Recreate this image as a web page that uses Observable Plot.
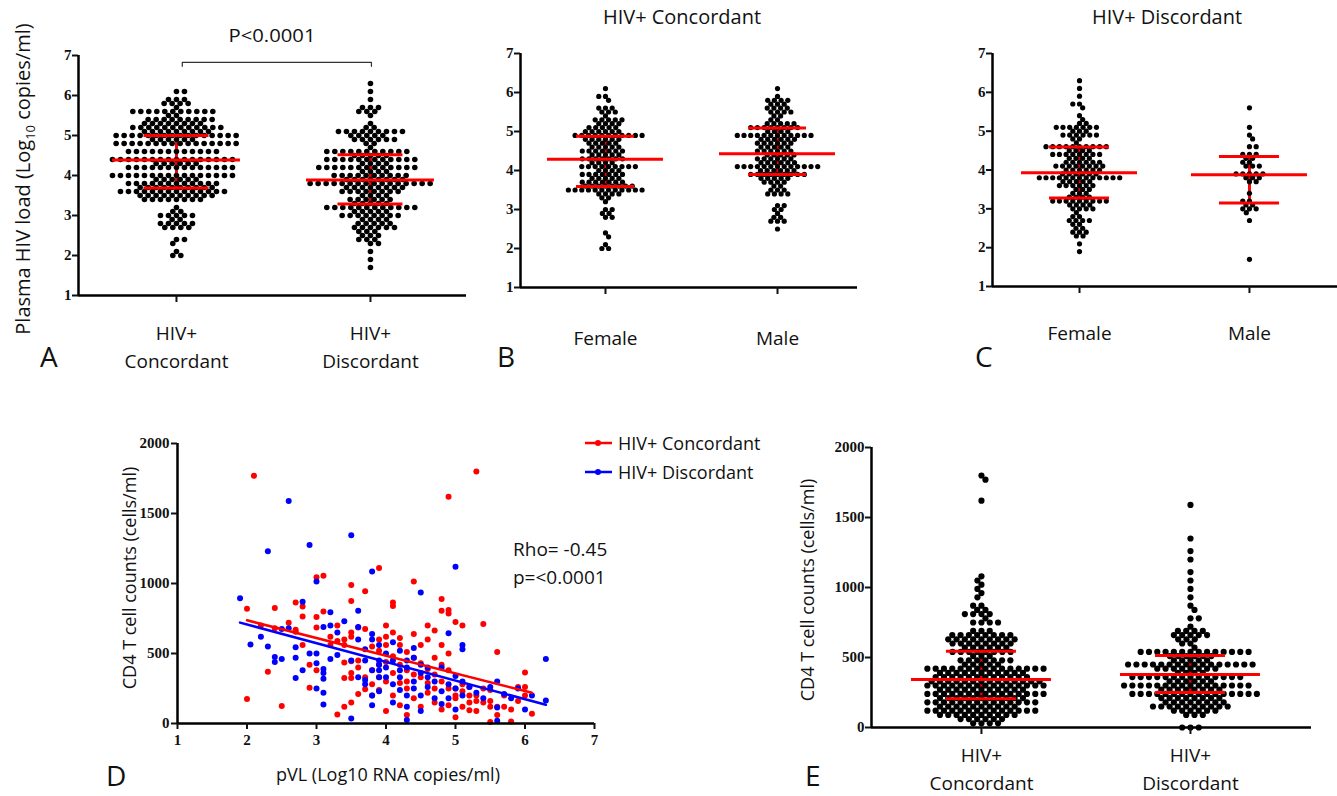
<!DOCTYPE html>
<html><head><meta charset="utf-8">
<script src="https://cdn.jsdelivr.net/npm/d3@7"></script>
<script src="https://cdn.jsdelivr.net/npm/@observablehq/plot@0.6"></script>
<style>
body{margin:0;background:#fff;}
#page{position:relative;width:1337px;height:796px;overflow:hidden;background:#fff;}
#page > svg, #page > figure{position:absolute;margin:0;}
#overlay{left:0;top:0;pointer-events:none;}
#overlay text{font-family:"Open Sans",sans-serif;fill:#111;}
</style></head><body><div id="page"></div>
<script>
// ---------------- DATA ----------------
// Plasma HIV load (log10 copies/ml): rows of [value, number of dots at that value]
const aGroups = ["HIV+\nConcordant", "HIV+\nDiscordant"];
const aConcordantRows = [[6.1,2],[5.9,3],[5.8,4],[5.7,1],[5.6,11],[5.5,2],[5.4,9],[5.3,8],[5.2,12],[5.1,9],[5.0,16],[4.9,6],[4.8,16],[4.6,12],[4.4,16],[4.3,6],[4.2,14],[4.0,16],[3.9,6],[3.8,12],[3.7,10],[3.6,14],[3.5,10],[3.4,8],[3.2,1],[3.1,2],[3.0,5],[2.9,2],[2.8,5],[2.7,4],[2.4,2],[2.3,1],[2.1,1],[2.0,2]];
const aDiscordantRows = [[6.3,1],[6.1,1],[5.9,1],[5.7,3],[5.6,3],[5.5,1],[5.3,1],[5.2,2],[5.1,9],[5.0,5],[4.9,6],[4.8,2],[4.7,1],[4.6,11],[4.5,5],[4.4,12],[4.3,4],[4.2,13],[4.1,4],[4.0,10],[3.9,8],[3.8,16],[3.7,8],[3.6,8],[3.5,4],[3.4,6],[3.3,5],[3.2,12],[3.1,5],[3.0,8],[2.9,4],[2.8,5],[2.7,6],[2.6,3],[2.5,3],[2.4,3],[2.3,2],[2.1,1],[1.9,1],[1.7,1]];
const aMedian = [4.39, 3.89], aQ1 = [3.69, 3.29], aQ3 = [5.0, 4.52];

const bGroups = ["Female", "Male"];
const bFemaleRows = [[6.1,1],[5.9,2],[5.8,1],[5.6,3],[5.5,3],[5.4,1],[5.3,5],[5.2,4],[5.1,5],[5.0,6],[4.9,11],[4.8,6],[4.7,5],[4.6,5],[4.5,7],[4.4,5],[4.3,7],[4.2,4],[4.1,9],[4.0,4],[3.9,7],[3.8,5],[3.7,7],[3.6,8],[3.5,12],[3.4,4],[3.3,2],[3.2,1],[3.0,2],[2.9,2],[2.8,2],[2.4,1],[2.3,1],[2.1,1],[2.0,2]];
const bMaleRows = [[6.1,1],[5.9,1],[5.8,4],[5.7,3],[5.6,4],[5.5,4],[5.4,2],[5.3,2],[5.2,5],[5.1,8],[5.0,4],[4.9,12],[4.8,6],[4.7,6],[4.6,5],[4.5,6],[4.4,5],[4.3,6],[4.2,6],[4.1,13],[4.0,6],[3.9,9],[3.8,5],[3.7,4],[3.6,2],[3.5,3],[3.4,4],[3.1,2],[3.0,2],[2.9,1],[2.8,2],[2.7,3],[2.5,1]];
const bMedian = [4.29, 4.43], bQ1 = [3.59, 3.9], bQ3 = [4.88, 5.09];

const cGroups = ["Female", "Male"];
const cFemaleRows = [[6.3,1],[6.1,1],[5.9,1],[5.7,2],[5.6,1],[5.4,1],[5.3,1],[5.2,2],[5.1,7],[5.0,3],[4.9,6],[4.8,2],[4.7,1],[4.6,10],[4.5,4],[4.4,8],[4.3,4],[4.2,6],[4.1,8],[4.0,6],[3.9,6],[3.8,13],[3.7,5],[3.6,6],[3.5,3],[3.4,3],[3.3,4],[3.2,9],[3.1,4],[3.0,4],[2.9,1],[2.8,2],[2.7,4],[2.6,2],[2.5,2],[2.4,3],[2.3,2],[2.1,1],[1.9,1]];
const cMaleRows = [[5.6,1],[5.1,1],[4.9,1],[4.8,1],[4.6,2],[4.4,3],[4.3,2],[4.2,2],[4.1,3],[3.9,5],[3.8,3],[3.7,2],[3.4,1],[3.2,2],[3.1,2],[3.0,3],[2.9,1],[2.7,1],[1.7,1]];
const cMedian = [3.93, 3.88], cQ1 = [3.28, 3.15], cQ3 = [4.59, 4.35];

// CD4 T cell counts (cells/ml) vs pVL (log10 RNA copies/ml): [pVL, CD4]
const dConcordant = [[2.1,1770],[5.3,1800],[4.9,1620],[3.0,1045],[3.1,1055],[3.9,1110],[4.4,1015],[3.5,990],[3.7,945],[4.1,865],[4.1,840],[4.8,890],[3.5,875],[2.0,820],[2.4,825],[2.7,865],[2.8,835],[2.8,765],[4.8,805],[4.9,785],[4.9,810],[5.0,725],[5.1,700],[5.4,710],[4.6,700],[4.7,665],[2.7,670],[2.7,655],[3.0,685],[2.8,560],[2.3,370],[2.0,175],[2.5,125],[2.9,420],[2.9,255],[3.0,380],[3.3,65],[3.4,120],[3.5,150],[3.4,435],[3.4,325],[3.5,445],[3.5,360],[3.5,325],[3.4,560],[3.4,600],[3.5,620],[3.5,650],[3.6,685],[3.7,675],[3.6,450],[3.7,330],[3.6,210],[3.7,245],[3.8,550],[3.9,600],[3.9,520],[4.0,620],[4.0,560],[3.8,200],[3.9,240],[3.9,330],[3.8,280],[5.6,510],[6.0,365],[5.9,260],[6.0,260],[6.1,70],[5.5,160],[5.6,120],[5.7,120],[5.5,10],[5.8,15],[5.0,45],[5.2,95],[4.0,700],[4.1,650],[4.2,610],[4.2,560],[4.3,510],[4.4,640],[4.4,470],[4.1,480],[4.0,440],[4.2,420],[4.3,380],[4.1,360],[4.0,300],[4.2,290],[4.3,250],[4.1,200],[4.4,180],[4.2,130],[4.0,90],[4.3,60],[4.5,560],[4.5,430],[4.6,390],[4.5,330],[4.6,290],[4.7,470],[4.7,350],[4.8,560],[4.8,420],[4.8,300],[4.6,220],[4.7,150],[4.8,100],[4.9,500],[4.9,380],[5.0,250],[5.0,200],[4.9,250],[5.0,180],[5.1,230],[5.1,280],[5.2,150],[5.2,200],[5.3,160],[5.3,200],[5.4,250],[5.4,150],[5.5,120],[5.6,60],[5.7,200],[5.8,100],[5.3,90],[4.5,120],[4.9,130],[3.9,420],[3.8,380],[3.6,400],[3.3,590],[3.2,560],[3.1,800],[3.0,760],[2.6,720],[2.2,700],[2.4,680],[3.2,620],[3.3,700],[4.6,600],[4.3,300],[4.4,350],[4.7,250],[5.1,120],[5.2,260],[5.5,240],[5.9,160],[6.0,200]];
const dDiscordant = [[2.6,1590],[2.3,1230],[2.9,1275],[3.5,1345],[3.8,1085],[3.0,1015],[1.9,895],[2.8,870],[3.2,795],[3.6,805],[3.4,730],[2.5,675],[2.6,680],[3.1,690],[3.2,700],[3.3,650],[3.6,690],[3.8,640],[2.05,565],[2.3,550],[2.4,475],[2.5,460],[2.4,440],[2.7,545],[2.7,470],[2.7,325],[2.9,500],[3.0,500],[3.0,430],[3.1,390],[3.1,360],[3.2,460],[3.1,320],[3.0,250],[3.1,220],[3.1,135],[3.3,490],[3.5,450],[3.5,35],[3.6,330],[3.7,310],[3.7,450],[3.7,530],[3.8,600],[3.8,380],[3.9,560],[3.8,200],[3.8,130],[3.9,230],[3.7,280],[3.9,330],[3.9,380],[3.9,420],[3.9,450],[5.0,1120],[4.5,935],[4.9,645],[5.1,560],[5.1,530],[6.3,460],[6.3,165],[5.7,210],[5.6,115],[4.3,25],[5.6,20],[4.0,500],[4.0,400],[4.0,330],[4.1,580],[4.1,450],[4.1,280],[4.1,150],[4.2,520],[4.2,380],[4.2,330],[4.2,240],[4.3,450],[4.3,400],[4.3,200],[4.3,120],[4.4,470],[4.4,300],[4.4,250],[4.5,420],[4.5,360],[4.5,200],[4.5,90],[4.6,400],[4.6,330],[4.6,260],[4.7,300],[4.7,180],[4.8,400],[4.8,230],[4.8,140],[4.9,280],[4.9,180],[5.0,340],[5.0,250],[5.0,100],[5.1,300],[5.1,200],[5.2,260],[5.3,220],[5.4,180],[5.5,260],[5.6,300],[5.8,180],[5.9,250],[6.0,100],[6.1,200],[4.4,540],[3.6,600],[2.2,620],[2.8,380]];
const pvlTicks = [1,2,3,4,5,6,7];
const cd4Ticks = [0,500,1000,1500,2000];

// CD4 T cell counts (cells/ml) per group: rows of [value, number of dots]
const eGroups = ["HIV+\nConcordant", "HIV+\nDiscordant"];
const eConcordantRows = [[1800,1],[1770,1],[1620,1],[1080,1],[1050,1],[1020,1],[990,1],[960,1],[930,1],[870,2],[840,2],[810,4],[780,1],[750,4],[690,3],[660,8],[630,9],[600,8],[570,6],[540,8],[510,3],[480,7],[450,5],[420,15],[390,11],[360,12],[330,14],[300,15],[270,11],[240,15],[210,11],[180,14],[150,10],[120,14],[90,10],[60,6],[30,4]];
const eDiscordantRows = [[1590,1],[1350,1],[1260,1],[1200,1],[1110,1],[1050,1],[990,1],[930,1],[870,1],[840,1],[780,2],[720,1],[690,4],[660,5],[630,3],[600,2],[570,1],[540,14],[510,6],[480,5],[450,16],[420,8],[390,4],[360,14],[330,6],[300,16],[270,8],[240,16],[210,8],[180,8],[150,10],[120,6],[90,3],[0,3]];
const eMedian = [343, 378], eQ1 = [205, 250], eQ3 = [545, 514];

// ---------------- STYLE ----------------
const RED = "#ff0000", BLUE = "#0000ff";
const SANS = "'Open Sans',sans-serif";
const SERIF = "'Liberation Serif','DejaVu Serif',serif";
const TICK_FONT = {fontFamily: SERIF, fontWeight: "bold", fontSize: 15};
const CAT_FONT = {fontFamily: SANS, fontSize: 19};
const page = document.getElementById("page");

function expand(rows) { return rows.flatMap(([v, n]) => Array.from({length: n}, () => v)); }

// beeswarm placement (pixel offsets) with elliptical collision sx × sy
function swarm(values, yPx, sx, sy) {
  const order = d3.range(values.length).sort((i, j) => d3.descending(values[i], values[j]));
  const placed = [], out = new Array(values.length);
  let flip = 1;
  for (const i of order) {
    const y = yPx(values[i]);
    const near = placed.filter(p => Math.abs(p.y - y) < sy);
    const cands = [0];
    for (const p of near) {
      const w = sx * Math.sqrt(1 - ((p.y - y) / sy) ** 2);
      cands.push(p.x - w, p.x + w);
    }
    cands.sort((a, b) => Math.abs(a) - Math.abs(b) || (a - b) * flip);
    let best = 0;
    for (const c of cands) {
      if (near.every(p => ((p.x - c) / sx) ** 2 + ((p.y - y) / sy) ** 2 >= 0.999)) { best = c; break; }
    }
    flip = -flip;
    placed.push({x: best, y});
    out[i] = best;
  }
  return out;
}

function place(node, left, top) {
  node.style.left = left + "px"; node.style.top = top + "px";
  page.appendChild(node);
}

function swarmPanel(o) {
  const {left, top, width, height, ml, mr, mt, mb, xDomain, yDomain, yTicks, groups, rows,
         median, q1, q3, r, sx, sy, medHalf, iqrHalf, labelPad, extra} = o;
  const yPx = d3.scaleLinear(yDomain, [height - mb, mt]);
  const ppu = (width - ml - mr) / (xDomain[1] - xDomain[0]);
  const points = [];
  rows.forEach((rw, g) => {
    const vals = expand(rw);
    const off = swarm(vals, yPx, sx, sy);
    vals.forEach((v, i) => points.push({x: g + off[i] / ppu, y: v}));
  });
  const stats = groups.map((_, g) => ({g, median: median[g], q1: q1[g], q3: q3[g]}));
  const plot = Plot.plot({
    width, height, marginLeft: ml, marginRight: mr, marginTop: mt, marginBottom: mb,
    x: {domain: xDomain}, y: {domain: yDomain},
    style: {color: "#111", background: "transparent", overflow: "visible"},
    marks: [
      Plot.ruleX(stats, {x: "g", y1: "q1", y2: "q3", stroke: RED, strokeWidth: 3}),
      Plot.dot(points, {x: "x", y: "y", r, fill: "#000", stroke: "none"}),
      Plot.ruleY(stats, {y: "median", x1: d => d.g - medHalf / ppu, x2: d => d.g + medHalf / ppu, stroke: RED, strokeWidth: 3}),
      Plot.ruleY(stats, {y: "q1", x1: d => d.g - iqrHalf / ppu, x2: d => d.g + iqrHalf / ppu, stroke: RED, strokeWidth: 3}),
      Plot.ruleY(stats, {y: "q3", x1: d => d.g - iqrHalf / ppu, x2: d => d.g + iqrHalf / ppu, stroke: RED, strokeWidth: 3}),
      Plot.ruleX([xDomain[0]], {stroke: "#000", strokeWidth: 2.5}),
      Plot.ruleY([yDomain[0]], {stroke: "#000", strokeWidth: 2.5}),
      Plot.axisY({ticks: yTicks, tickFormat: d => String(d), tickSize: 6, tickPadding: 1, strokeWidth: 2, label: null, ...TICK_FONT}),
      Plot.axisX({ticks: groups.map((_, i) => i), tickFormat: i => groups[i], tickSize: 7, tickPadding: labelPad,
                  strokeWidth: 2, lineHeight: 1.5, label: null, ...CAT_FONT}),
      ...(extra ? extra(ppu) : [])
    ]
  });
  place(plot, left, top);
}

// ---- Panel A ----
const bracket = [{x: 0.03, y: 6.73}, {x: 0.03, y: 6.83}, {x: 1.005, y: 6.83}, {x: 1.005, y: 6.73}];
swarmPanel({left: 0, top: 0, width: 480, height: 390, ml: 78, mr: 14, mt: 55, mb: 95,
  xDomain: [-0.505, 1.495], yDomain: [1, 7], yTicks: [1,2,3,4,5,6,7], groups: aGroups,
  rows: [aConcordantRows, aDiscordantRows], median: aMedian, q1: aQ1, q3: aQ3,
  r: 2.8, sx: 8, sy: 4.5, medHalf: 64, iqrHalf: 32.5, labelPad: 17,
  extra: () => [Plot.line(bracket, {x: "x", y: "y", stroke: "#333", strokeWidth: 1.2})]});

// ---- Panel B ----
swarmPanel({left: 480, top: 0, width: 390, height: 390, ml: 40, mr: 13, mt: 53, mb: 103,
  xDomain: [-0.494, 1.465], yDomain: [1, 7], yTicks: [1,2,3,4,5,6,7], groups: bGroups,
  rows: [bFemaleRows, bMaleRows], median: bMedian, q1: bQ1, q3: bQ3,
  r: 2.6, sx: 6.7, sy: 4.4, medHalf: 58, iqrHalf: 29, labelPad: 30});

// ---- Panel C ----
swarmPanel({left: 900, top: 0, width: 437, height: 390, ml: 92, mr: 0, mt: 53, mb: 104,
  xDomain: [-0.512, 1.518], yDomain: [1, 7], yTicks: [1,2,3,4,5,6,7], groups: cGroups,
  rows: [cFemaleRows, cMaleRows], median: cMedian, q1: cQ1, q3: cQ3,
  r: 2.6, sx: 6.7, sy: 4.4, medHalf: 58, iqrHalf: 30, labelPad: 26});

// ---- Panel E ----
swarmPanel({left: 800, top: 400, width: 537, height: 396, ml: 71, mr: 26, mt: 47, mb: 69,
  xDomain: [-0.526, 1.579], yDomain: [0, 2000], yTicks: cd4Ticks, groups: eGroups,
  rows: [eConcordantRows, eDiscordantRows], median: eMedian, q1: eQ1, q3: eQ3,
  r: 3.1, sx: 8.3, sy: 4.8, medHalf: 70, iqrHalf: 35, labelPad: 7});

// ---- Panel D ----
const dConcPts = dConcordant.map(([x, y]) => ({x, y}));
const dDiscPts = dDiscordant.map(([x, y]) => ({x, y}));
const dPlot = Plot.plot({
  width: 640, height: 396, marginLeft: 177, marginRight: 46, marginTop: 43, marginBottom: 73,
  x: {domain: [1, 7]}, y: {domain: [0, 2000]},
  style: {color: "#111", background: "transparent", overflow: "visible"},
  marks: [
    Plot.dot(dConcPts, {x: "x", y: "y", r: 3, fill: RED, stroke: "none"}),
    Plot.dot(dDiscPts, {x: "x", y: "y", r: 3, fill: BLUE, stroke: "none"}),
    Plot.linearRegressionY(dDiscPts, {x: "x", y: "y", stroke: BLUE, strokeWidth: 2.5, ci: 0}),
    Plot.linearRegressionY(dConcPts, {x: "x", y: "y", stroke: RED, strokeWidth: 2.5, ci: 0}),
    Plot.ruleX([1], {stroke: "#000", strokeWidth: 2.5}),
    Plot.ruleY([0], {stroke: "#000", strokeWidth: 2.5}),
    Plot.axisY({ticks: cd4Ticks, tickFormat: d => String(d), tickSize: 6, tickPadding: 2, strokeWidth: 2, label: null, ...TICK_FONT}),
    Plot.axisX({ticks: pvlTicks, tickFormat: d => String(d), tickSize: 6, tickPadding: 5, strokeWidth: 2, label: null, ...TICK_FONT})
  ]
});
place(dPlot, 0, 400);

// ---------------- TEXT OVERLAY (titles, labels, legend) ----------------
const ns = "http://www.w3.org/2000/svg";
const ov = document.createElementNS(ns, "svg");
ov.setAttribute("id", "overlay"); ov.setAttribute("width", 1337); ov.setAttribute("height", 796);
ov.innerHTML = `
  <text x="272" y="41.5" font-size="19" text-anchor="middle" textLength="87" lengthAdjust="spacingAndGlyphs">P&lt;0.0001</text>
  <text x="682" y="24" font-size="19.5" text-anchor="middle" textLength="158" lengthAdjust="spacingAndGlyphs">HIV+ Concordant</text>
  <text x="1167" y="24" font-size="19.5" text-anchor="middle" textLength="150" lengthAdjust="spacingAndGlyphs">HIV+ Discordant</text>
  <text transform="translate(30,179) rotate(-90)" font-size="20" text-anchor="middle">Plasma HIV load (Log<tspan font-size="13" dy="5">10</tspan><tspan dy="-5"> copies/ml)</tspan></text>
  <text x="40" y="367" font-size="28">A</text>
  <text x="497" y="367" font-size="28">B</text>
  <text x="975" y="367" font-size="28">C</text>
  <text x="106" y="786" font-size="28">D</text>
  <text x="805" y="786" font-size="28">E</text>
  <text transform="translate(136,578) rotate(-90)" font-size="18" text-anchor="middle">CD4 T cell counts (cells/ml)</text>
  <text x="388" y="781" font-size="18" text-anchor="middle">pVL (Log10 RNA copies/ml)</text>
  <text transform="translate(814,590) rotate(-90)" font-size="18" text-anchor="middle">CD4 T cell counts (cells/ml)</text>
  <text x="513" y="556" font-size="19">Rho= -0.45</text>
  <text x="513" y="584" font-size="19">p=&lt;0.0001</text>
  <line x1="585" x2="612" y1="443" y2="443" stroke="${RED}" stroke-width="2.5"/>
  <circle cx="598" cy="443" r="3" fill="${RED}"/>
  <text x="618" y="449.5" font-size="18">HIV+ Concordant</text>
  <line x1="585" x2="612" y1="472" y2="472" stroke="${BLUE}" stroke-width="2.5"/>
  <circle cx="598" cy="472" r="3" fill="${BLUE}"/>
  <text x="618" y="478.5" font-size="18">HIV+ Discordant</text>
`;
page.appendChild(ov);
</script></body></html>
